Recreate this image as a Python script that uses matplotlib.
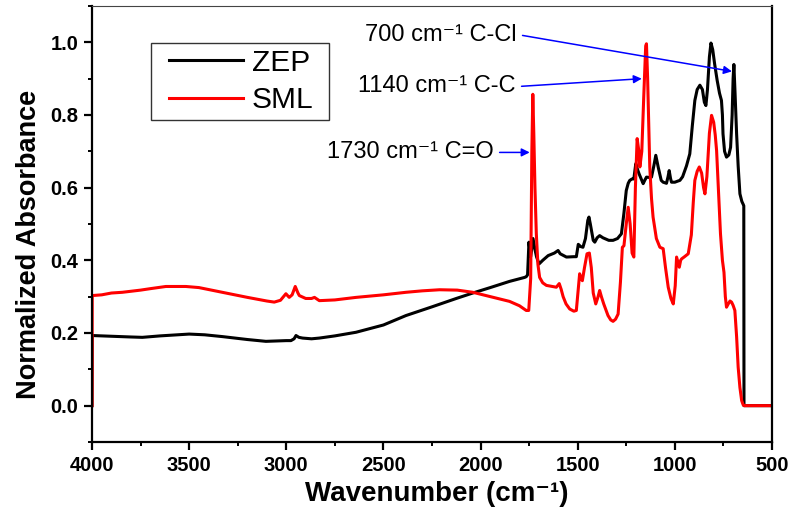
import matplotlib
matplotlib.use("Agg")
import matplotlib.pyplot as plt
from matplotlib.ticker import MultipleLocator
from matplotlib.patches import Rectangle

plt.rcParams['font.family'] = ['Liberation Sans', 'DejaVu Sans']

# -----------------------------
# ZEP spectrum (black)
# -----------------------------
zep_wn = [4000, 3999, 3900, 3800, 3741, 3650, 3500, 3420, 3328, 3200, 3105, 3000, 2976, 2960,
          2950, 2935, 2916, 2870, 2830, 2750, 2641, 2500, 2384, 2250, 2125, 2040, 1950, 1851,
          1773, 1765, 1758, 1751, 1742, 1730, 1720, 1712, 1699, 1680, 1652, 1620, 1601, 1590,
          1558, 1520, 1507, 1497, 1485, 1473, 1460, 1448, 1442, 1435, 1420, 1412, 1400, 1387,
          1370, 1340, 1318, 1295, 1275, 1262, 1250, 1240, 1232, 1220, 1211, 1201, 1192, 1184,
          1163, 1155, 1146, 1130, 1120, 1108, 1098, 1085, 1070, 1060, 1043, 1035, 1029, 1022,
          1017, 1000, 985, 974, 960, 940, 923, 910, 897, 885, 871, 858, 848, 840, 832, 822,
          814, 805, 795, 782, 770, 760, 755, 752, 744, 734, 722, 713, 705, 700, 696, 690, 682,
          674, 665, 655, 648, 645, 644, 500]
zep_abs = [0.0, 0.193, 0.191, 0.189, 0.188, 0.192, 0.197, 0.195, 0.19, 0.182, 0.177, 0.179, 0.179, 0.184,
           0.193, 0.188, 0.186, 0.184, 0.186, 0.192, 0.202, 0.222, 0.248, 0.272, 0.295, 0.31, 0.325, 0.342,
           0.353, 0.355, 0.36, 0.45, 0.41, 0.46, 0.43, 0.41, 0.39, 0.4, 0.413, 0.42, 0.427, 0.418,
           0.409, 0.41, 0.41, 0.444, 0.438, 0.436, 0.46, 0.51, 0.519, 0.5, 0.455, 0.45, 0.462, 0.468,
           0.462, 0.455, 0.455, 0.46, 0.473, 0.53, 0.592, 0.612, 0.62, 0.624, 0.624, 0.666, 0.65, 0.638,
           0.611, 0.62, 0.629, 0.628, 0.629, 0.66, 0.689, 0.655, 0.62, 0.615, 0.612, 0.63, 0.647, 0.625,
           0.615, 0.615, 0.618, 0.62, 0.63, 0.66, 0.693, 0.77, 0.84, 0.87, 0.882, 0.87, 0.835, 0.826, 0.87, 0.96,
           0.998, 0.98, 0.94, 0.895, 0.86, 0.84, 0.8, 0.748, 0.7, 0.684, 0.69, 0.711, 0.8, 0.9, 0.939, 0.86, 0.748,
           0.66, 0.583, 0.562, 0.554, 0.55, 0.0, 0.0]

# -----------------------------
# SML spectrum (red)
# -----------------------------
sml_wn = [4000, 3999, 3950, 3900, 3844, 3750, 3700, 3620, 3517, 3450, 3329, 3200, 3100, 3062,
          3030, 3002, 2985, 2970, 2954, 2940, 2933, 2900, 2870, 2855, 2830, 2750, 2641, 2500,
          2384, 2300, 2211, 2120, 2040, 1950, 1851, 1800, 1765, 1752, 1742, 1736, 1731, 1726,
          1720, 1713, 1705, 1696, 1680, 1661, 1630, 1610, 1595, 1585, 1575, 1560, 1541, 1520,
          1507, 1497, 1490, 1483, 1476, 1465, 1452, 1440, 1430, 1420, 1407, 1395, 1387, 1378,
          1366, 1344, 1330, 1318, 1305, 1292, 1280, 1270, 1262, 1250, 1240, 1230, 1220, 1211,
          1203, 1194, 1185, 1180, 1170, 1160, 1150, 1146, 1140, 1133, 1129, 1120, 1112, 1095,
          1077, 1060, 1048, 1034, 1020, 1008, 998, 991, 984, 977, 970, 965, 950, 931, 915, 905,
          897, 885, 874, 862, 852, 845, 835, 822, 811, 800, 792, 785, 775, 765, 755, 747, 740,
          734, 725, 716, 708, 700, 691, 682, 674, 665, 656, 648, 644, 500]
sml_abs = [0.0, 0.303, 0.305, 0.31, 0.312, 0.318, 0.322, 0.328, 0.328, 0.325, 0.312, 0.298, 0.288, 0.285,
           0.29, 0.308, 0.298, 0.305, 0.328, 0.31, 0.303, 0.295, 0.295, 0.298, 0.289, 0.291, 0.298, 0.305,
           0.312, 0.316, 0.319, 0.318, 0.312, 0.3, 0.287, 0.275, 0.262, 0.262, 0.35, 0.7, 0.857, 0.75,
           0.6, 0.473, 0.39, 0.353, 0.338, 0.331, 0.328, 0.326, 0.336, 0.32, 0.3, 0.28, 0.266, 0.26,
           0.262, 0.32, 0.363, 0.35, 0.344, 0.38, 0.418, 0.42, 0.38, 0.31, 0.28, 0.3, 0.317, 0.3,
           0.28, 0.248, 0.236, 0.232, 0.238, 0.252, 0.34, 0.436, 0.44, 0.5, 0.546, 0.5, 0.42, 0.409,
           0.6, 0.735, 0.7, 0.657, 0.7, 0.85, 0.99, 0.996, 0.9, 0.75, 0.657, 0.57, 0.519, 0.46,
           0.436, 0.432, 0.38, 0.326, 0.295, 0.28, 0.33, 0.409, 0.395, 0.381, 0.4, 0.404, 0.41, 0.418, 0.47, 0.56,
           0.62, 0.645, 0.657, 0.64, 0.6, 0.583, 0.63, 0.75, 0.799, 0.78, 0.745, 0.702, 0.59, 0.473, 0.4, 0.367, 0.3,
           0.271, 0.28, 0.288, 0.285, 0.276, 0.262, 0.19, 0.106, 0.05, 0.014, 0.002, 0.0, 0.0]

# band labels: text, arrow tip (wavenumber, absorbance), arrow tail (wavenumber, absorbance)
band_text = ["700 cm\u207b\u00b9 C-Cl", "1140 cm\u207b\u00b9 C-C", "1730 cm\u207b\u00b9 C=O"]
band_tip = [(706, 0.92), (1170, 0.90), (1747, 0.697)]
band_start = [(1784, 1.019), (1789, 0.879), (1902, 0.697)]

fig = plt.figure(figsize=(7.92, 5.17), dpi=100)
ax = fig.add_axes([0.1162, 0.1451, 0.8585, 0.8433])

ax.plot(zep_wn, zep_abs, color="black", lw=2.2, label="ZEP")
ax.plot(sml_wn, sml_abs, color="red", lw=2.2, label="SML")

for txt, tip, start in zip(band_text, band_tip, band_start):
    ax.annotate("", xy=tip, xytext=start,
                arrowprops=dict(arrowstyle="-|>", color="blue", lw=1.1,
                                mutation_scale=12, shrinkA=0, shrinkB=0))
    ax.text(start[0] + 30, start[1], txt, ha="right", va="center", fontsize=17)

ax.set_xlim(4000, 500)
ax.set_ylim(-0.1, 1.1)
ax.xaxis.set_major_locator(MultipleLocator(500))
ax.xaxis.set_minor_locator(MultipleLocator(250))
ax.yaxis.set_minor_locator(MultipleLocator(0.1))
ax.set_yticks([0.0, 0.2, 0.4, 0.6, 0.8, 1.0])
ax.set_yticklabels(["0.0", "0.2", "0.4", "0.6", "0.8", "1.0"])

ax.tick_params(which="major", direction="out", length=6, width=1.6, labelsize=14.5, pad=4)
ax.tick_params(which="minor", direction="out", length=3, width=1.4)
for lab in ax.get_xticklabels() + ax.get_yticklabels():
    lab.set_fontweight("bold")

for side in ["left", "bottom", "right"]:
    ax.spines[side].set_linewidth(1.6)
ax.spines["top"].set_linewidth(0.8)
ax.spines["top"].set_color("#444444")

ax.set_xlabel("Wavenumber (cm\u207b\u00b9)", fontsize=20, fontweight="bold")
ax.xaxis.set_label_coords(0.507, -0.09)
ax.set_ylabel("Normalized Absorbance", fontsize=19.5, fontweight="bold")
ax.yaxis.set_label_coords(-0.0735, 0.452)

# legend without its own frame, box drawn separately
leg = ax.legend(loc="upper left", bbox_to_anchor=(0.1132, 0.902), borderaxespad=0,
                fontsize=21.5, frameon=False, handlelength=2.47,
                handletextpad=0.3, labelspacing=0.32, borderpad=0)
ax.add_patch(Rectangle((0.0868, 0.7385), 0.2617, 0.1765, transform=ax.transAxes,
                       fill=False, edgecolor="#333333", lw=1.0, zorder=5))

fig.savefig("out.png", dpi=100)
